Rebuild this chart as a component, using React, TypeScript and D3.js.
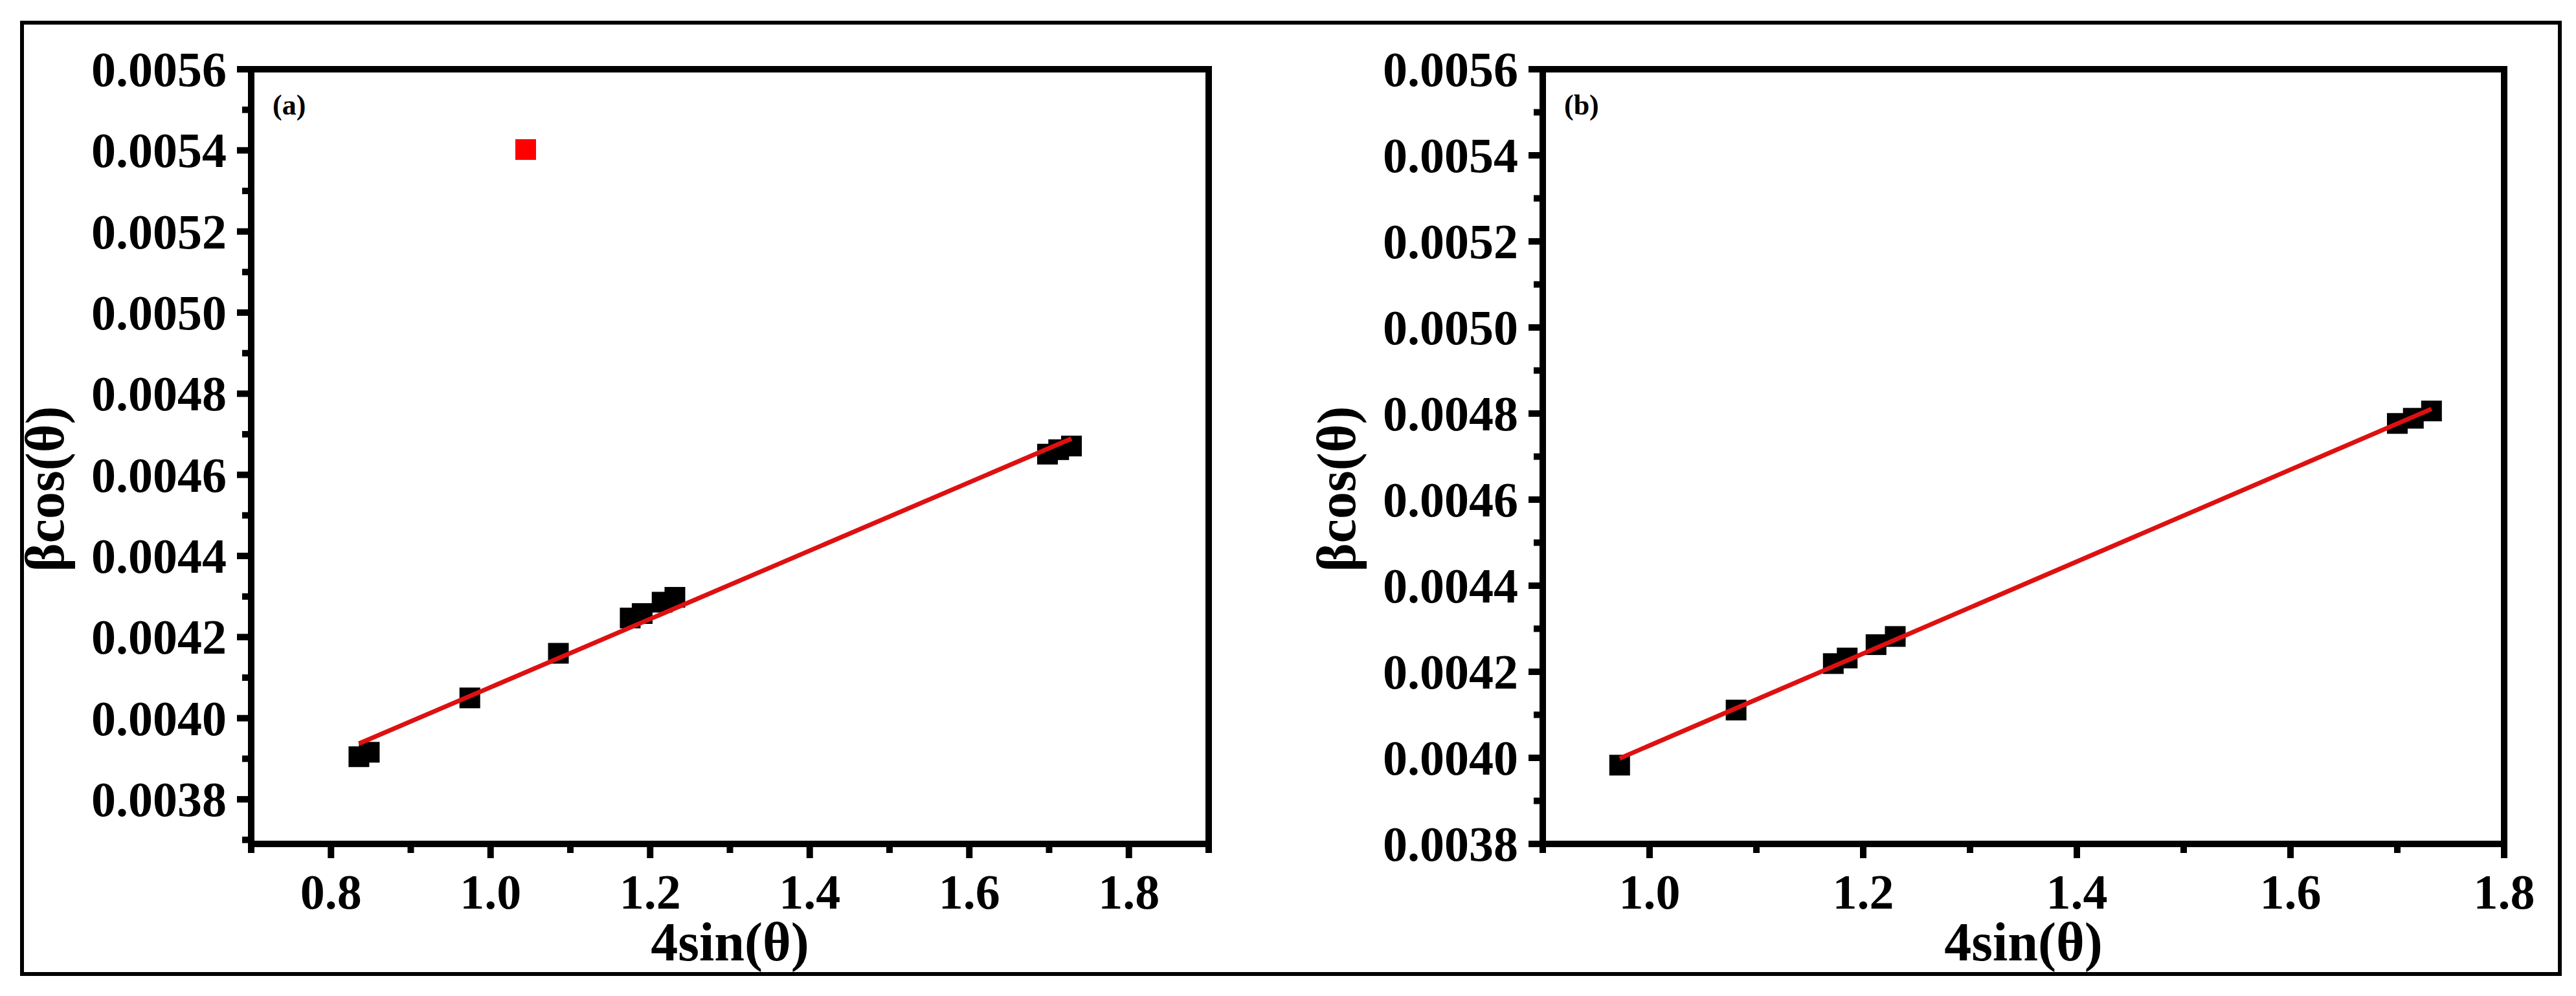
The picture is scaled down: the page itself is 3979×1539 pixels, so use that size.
import * as d3 from "d3";

// panel (a)
const xA = [0.835, 0.848, 0.974, 1.085, 1.175, 1.19, 1.215, 1.231, 1.698, 1.712, 1.728];
const yA = [0.003905, 0.003916, 0.00405, 0.00416, 0.004247, 0.004258, 0.004286, 0.004298, 0.004651, 0.004662, 0.004671];
const outlierA = [1.044, 0.005402];
// panel (b)
const xB = [0.972, 1.081, 1.172, 1.185, 1.212, 1.23, 1.7, 1.715, 1.732];
const yB = [0.003983, 0.004111, 0.004219, 0.004232, 0.004263, 0.004282, 0.004777, 0.004789, 0.004806];

const xTicksA = [0.8, 1.0, 1.2, 1.4, 1.6, 1.8];
const xTicksB = [1.0, 1.2, 1.4, 1.6, 1.8];
const yTicks = [0.0038, 0.004, 0.0042, 0.0044, 0.0046, 0.0048, 0.005, 0.0052, 0.0054, 0.0056];

const W = 3979, H = 1539;
const top = 107, bottom = 1304;
const font = "'Liberation Serif', 'Times New Roman', serif";

function fit(xs, ys) {
  const mx = d3.mean(xs), my = d3.mean(ys);
  const b = d3.sum(xs, (x, i) => (x - mx) * (ys[i] - my)) / d3.sum(xs, x => (x - mx) ** 2);
  return [b, my - b * mx];
}

function Panel({ left, right, xDomain, yDomain, xs, ys, xTicks, tag, outlier }) {
  const x = d3.scaleLinear(xDomain, [left, right]);
  const y = d3.scaleLinear(yDomain, [bottom, top]);
  const [b, a] = fit(xs, ys);
  const ext = d3.extent(xs);
  const line = d3.line().x(d => x(d)).y(d => y(a + b * d));
  const xMinor = d3.range(xDomain[0], xDomain[1] + 1e-9, 0.1).filter(v => !xTicks.some(t => Math.abs(t - v) < 1e-6));
  const yMinor = d3.range(0.0037, 0.00561, 0.0001).filter(v => v >= yDomain[0] - 1e-9 && !yTicks.some(t => Math.abs(t - v) < 1e-9));
  const s = 32;
  return (
    <g>
      <rect x={left} y={top} width={right - left} height={bottom - top} fill="none" stroke="#000" strokeWidth={10} />
      {xTicks.map(t => (
        <g key={t}>
          <line x1={x(t)} x2={x(t)} y1={bottom} y2={bottom + 22} stroke="#000" strokeWidth={10} />
          <text x={x(t)} y={bottom + 100} textAnchor="middle" fontSize={76} fontWeight="bold" fontFamily={font}>{t.toFixed(1)}</text>
        </g>
      ))}
      {xMinor.map(t => <line key={t} x1={x(t)} x2={x(t)} y1={bottom} y2={bottom + 14} stroke="#000" strokeWidth={10} />)}
      {yTicks.map(t => (
        <g key={t}>
          <line x1={left} x2={left - 22} y1={y(t)} y2={y(t)} stroke="#000" strokeWidth={10} />
          <text x={left - 38} y={y(t) + 26} textAnchor="end" fontSize={76} fontWeight="bold" fontFamily={font}>{t.toFixed(4)}</text>
        </g>
      ))}
      {yMinor.map(t => <line key={t} x1={left} x2={left - 14} y1={y(t)} y2={y(t)} stroke="#000" strokeWidth={10} />)}
      <text x={(left + right) / 2} y={bottom + 180} textAnchor="middle" fontSize={84} fontWeight="bold" fontFamily={font}>4sin(θ)</text>
      <text transform={`translate(${left - 290},${(top + bottom) / 2 + 50}) rotate(-90)`} textAnchor="middle" fontSize={84} fontWeight="bold" fontFamily={font}>βcos(θ)</text>
      <text x={left + 33} y={top + 70} fontSize={44} fontWeight="bold" fontFamily={font}>{tag}</text>
      {xs.map((v, i) => <rect key={i} x={x(v) - s / 2} y={y(ys[i]) - s / 2} width={s} height={s} fill="#000" />)}
      {outlier && <rect x={x(outlier[0]) - s / 2} y={y(outlier[1]) - s / 2} width={s} height={s} fill="#ff0000" />}
      <path d={line(ext)} stroke="#dd1111" strokeWidth={7} fill="none" />
    </g>
  );
}

export default function App() {
  return (
    <svg width={W} height={H} style={{ position: "absolute", left: 0, top: 0, background: "#fff" }}>
      <rect x={34} y={35} width={3920} height={1470} fill="none" stroke="#000" strokeWidth={6} />
      <Panel left={388} right={1867} xDomain={[0.7, 1.9]} yDomain={[0.00369, 0.0056]} xs={xA} ys={yA} xTicks={xTicksA} tag="(a)" outlier={outlierA} />
      <Panel left={2383} right={3868} xDomain={[0.9, 1.8]} yDomain={[0.0038, 0.0056]} xs={xB} ys={yB} xTicks={xTicksB} tag="(b)" />
    </svg>
  );
}
